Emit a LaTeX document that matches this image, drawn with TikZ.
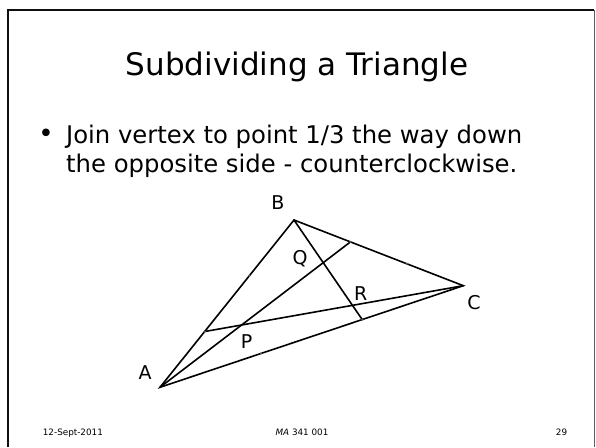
\documentclass[tikz,border=0pt]{standalone}
\usepackage{fontspec}
\setmainfont{DejaVu Sans}
\usetikzlibrary{calc}
\definecolor{framecol}{RGB}{15,15,15}
\definecolor{rimcol}{RGB}{95,95,95}
\definecolor{tickcol}{RGB}{90,90,90}
\tikzset{
  frame/.style   = {draw=framecol, line width=2.2pt},
  rim/.style     = {draw=rimcol, line width=0.9pt},
  seg/.style     = {draw=black, line width=1.6pt, line cap=round},
  tick/.style    = {circle, fill=tickcol, inner sep=0pt, minimum size=2.4pt},
  vlabel/.style  = {font=\fontsize{19}{19}\selectfont, inner sep=0pt},
  bodytext/.style = {font=\fontsize{24.3}{24.3}\selectfont, inner sep=0pt, anchor=base west},
  foot/.style    = {font=\fontsize{8.8}{8.8}\selectfont, inner sep=0pt, anchor=base},
}

\begin{document}
\begin{tikzpicture}[x=1pt, y=-1pt]
  \useasboundingbox (0,0) rectangle (596,447);

  % slide frame
  \draw[frame] (8,447) -- (8,10) -- (594,10);
  \draw[rim] (594,10) -- (594,447);

  \node[font=\fontsize{31}{31}\selectfont, inner sep=0pt, anchor=base] (title) at (297,75.7)
       {Subdividing a Triangle};

  \node[font=\fontsize{26}{26}\selectfont, inner sep=0pt, anchor=base] (dot) at (46,142) {•};
  \node[bodytext] (l1) at (66,143) {Join vertex to point 1/3 the way down};
  \node[bodytext] (l2) at (66,172) {the opposite side - counterclockwise.};

  % triangle and the three cevians
  \coordinate (A) at (160,387.3);
  \coordinate (B) at (294,220);
  \coordinate (C) at (463.3,285.7);
  \coordinate (D) at ($(B)!1/3!(C)$);
  \coordinate (E) at ($(C)!1/3!(A)$);
  \coordinate (F) at ($(A)!1/3!(B)$);

  \draw[seg] (A) -- (B) -- (C) -- cycle;
  \foreach \v/\w in {A/D, B/E, C/F} \draw[seg] (\v) -- (\w);

  \foreach \s/\t in {A/B, B/C, C/A}
    \foreach \f in {1/3, 2/3}
      \node[tick] at ($(\s)!\f!(\t)$) {};

  \node[vlabel] (la) at (145,372.5) {A};
  \node[vlabel] (lb) at (278,202.5) {B};
  \node[vlabel] (lc) at (474,302.5) {C};
  \node[vlabel] (lp) at (246.7,341.7) {P};
  \node[vlabel] (lq) at (300,259) {Q};
  \node[vlabel] (lr) at (360.8,293.3) {R};

  \node[foot, anchor=base west] (date) at (42.7,435.7) {12-Sept-2011};
  \node[foot] (course) at (302,435.7) {\textit{MA} 341 001};
  \node[foot] (page) at (561.5,435.7) {29};
\end{tikzpicture}
\end{document}
